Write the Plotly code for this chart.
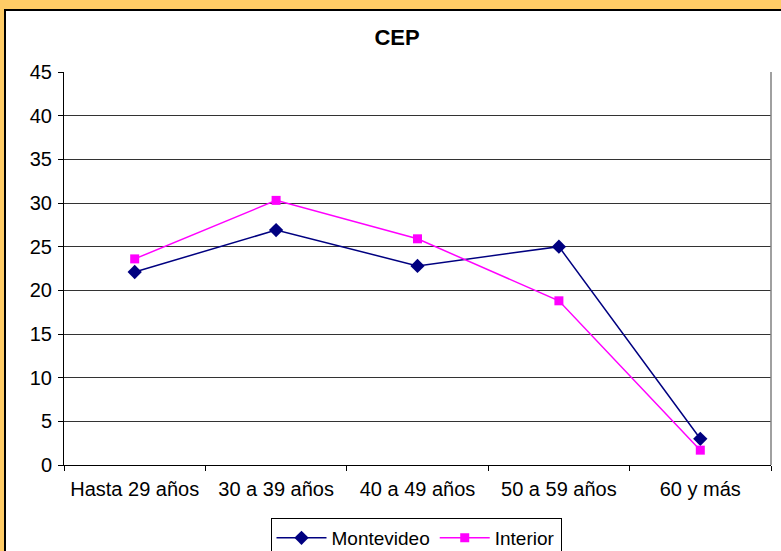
import plotly.graph_objects as go

categories = ["Hasta 29 años", "30 a 39 años", "40 a 49 años", "50 a 59 años", "60 y más"]
montevideo = [22.1, 26.9, 22.8, 25.0, 3.0]
interior = [23.6, 30.3, 25.9, 18.8, 1.7]
y_ticks = [0, 5, 10, 15, 20, 25, 30, 35, 40, 45]

W, H = 781, 551
# Target plot area in page pixels: x 64..771, y 72..465
L, R, T, B = 64, 781 - 771, 72, 551 - 465
pw, ph = W - L - R, H - T - B


def px(x):
    return (x - L) / pw


def py(y):
    return (H - B - y) / ph


fig = go.Figure()
fig.add_trace(go.Scatter(
    x=categories, y=montevideo, name="Montevideo", mode="lines+markers",
    line=dict(color="#000080", width=1.5),
    marker=dict(symbol="diamond", size=11, color="#000080"),
))
fig.add_trace(go.Scatter(
    x=categories, y=interior, name="Interior", mode="lines+markers",
    line=dict(color="#FF00FF", width=1.5),
    marker=dict(symbol="square", size=9, color="#FF00FF"),
))

fig.update_layout(
    width=W, height=H,
    margin=dict(l=L, r=R, t=T, b=B, autoexpand=False),
    paper_bgcolor="#FFCC66",
    plot_bgcolor="rgba(0,0,0,0)",
    font=dict(family="Liberation Sans, Arial, sans-serif", size=20, color="#000000"),
    title=dict(text="<b>CEP</b>", x=px(397), xref="paper", xanchor="center",
               y=1 - 37 / H, yanchor="middle", font=dict(size=22)),
    showlegend=True,
    legend=dict(orientation="h", x=px(416), xanchor="center", y=py(518), yanchor="top",
                bordercolor="#000000", borderwidth=1, bgcolor="#FFFFFF",
                font=dict(size=19), itemwidth=50, tracegroupgap=0),
    xaxis=dict(
        type="category", showgrid=False, showline=True, linecolor="#000000", linewidth=1,
        ticks="outside", tickson="boundaries", ticklen=5, tickcolor="#000000",
        range=[-0.5, 4.5], tickfont=dict(size=20), automargin=False,
        ticklabelstandoff=6,
    ),
    yaxis=dict(
        range=[0, 45], tickvals=y_ticks, showgrid=True, gridcolor="#333333", gridwidth=1,
        showline=True, linecolor="#000000", linewidth=1, ticks="outside", ticklen=5,
        tickcolor="#000000", zeroline=False, tickfont=dict(size=20), automargin=False,
        ticklabelstandoff=2,
    ),
    shapes=[
        dict(type="rect", xref="paper", yref="paper", layer="below",
             x0=px(5), x1=px(820), y0=py(600), y1=py(10),
             fillcolor="#FFFFFF", line=dict(color="#000000", width=2)),
        dict(type="line", xref="paper", yref="paper", layer="above",
             x0=1, x1=1, y0=0, y1=1, line=dict(color="#808080", width=1.5)),
    ],
)

fig.write_html(
    "out.html",
    config={"displayModeBar": False},
    post_script="document.body.style.margin='0';document.body.style.background='#FFCC66';",
)
